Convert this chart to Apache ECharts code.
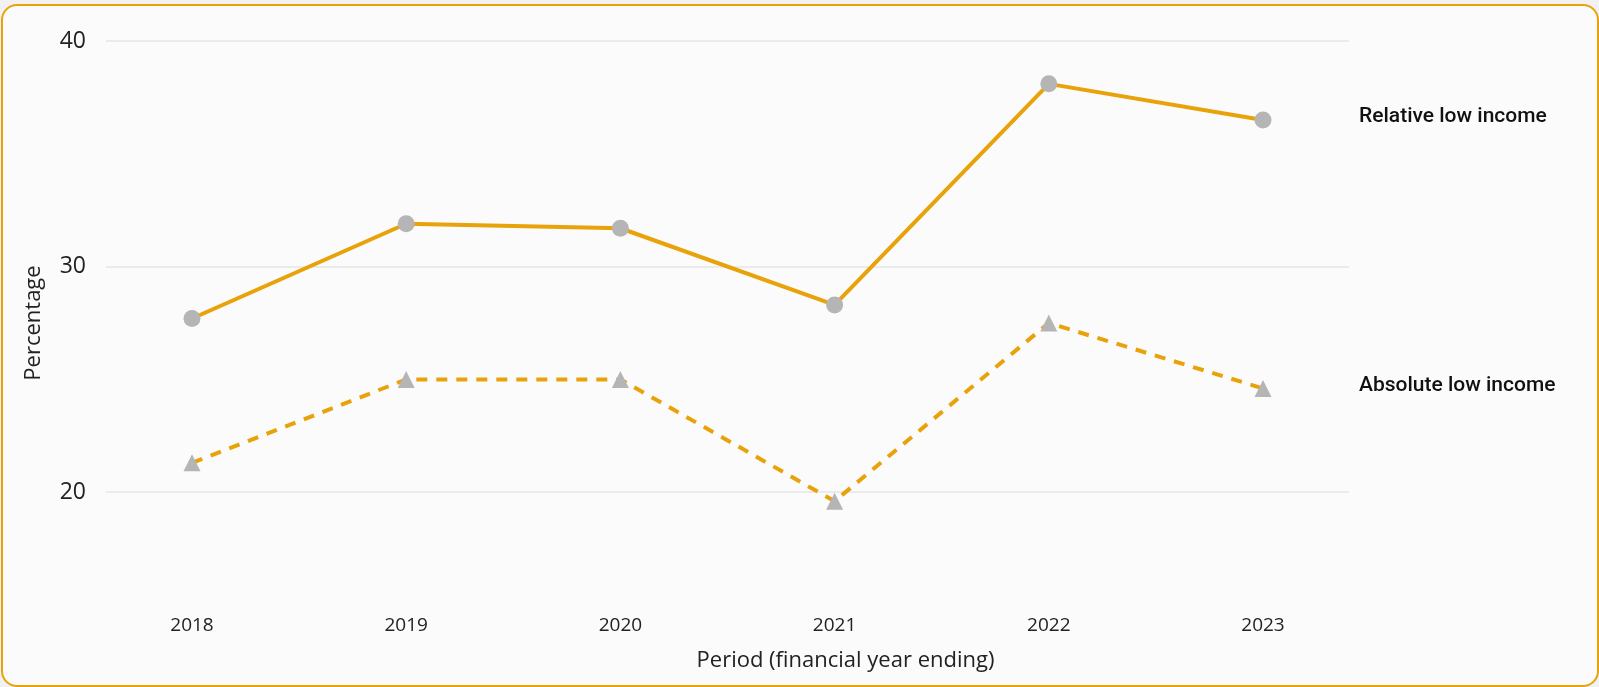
<!DOCTYPE html>
<html>
<head>
<meta charset="utf-8">
<script src="https://cdn.jsdelivr.net/npm/echarts@6/dist/echarts.min.js"></script>
<style>
  html, body { margin: 0; padding: 0; width: 1599px; height: 687px; background: #f2f2f2; overflow: hidden; }
  #frame { position: absolute; left: 1px; top: 4px; width: 1594px; height: 679px; border: 2px solid #E8A20A; border-radius: 16px; background: #fbfbfb; }
  #chart { position: absolute; left: 0; top: 0; width: 1599px; height: 687px; }
</style>
</head>
<body>
<div id="frame"></div>
<div id="chart"></div>
<script>
const categories = ['2018', '2019', '2020', '2021', '2022', '2023'];
const relativeLowIncome = [27.7, 31.9, 31.7, 28.3, 38.1, 36.5];
const absoluteLowIncome = [21.3, 25.0, 25.0, 19.6, 27.5, 24.6];
const yTickLabels = [20, 30, 40];
const seriesNames = ['Relative low income', 'Absolute low income'];

const ORANGE = '#E8A20A';
const GREY = '#b5b5b5';
const FONT = '"Open Sans", "Noto Sans", sans-serif';

const chart = echarts.init(document.getElementById('chart'), null, { renderer: 'canvas' });

const option = {
  backgroundColor: 'transparent',
  animation: false,
  grid: [
    { left: 106, right: 250, top: 41, bottom: 82 },
    { left: 192, right: 336, top: 41, bottom: 82 }
  ],
  xAxis: [
    { gridIndex: 0, type: 'value', min: 0, max: 1, show: false },
    {
      gridIndex: 1, type: 'category', data: categories, boundaryGap: false,
      axisLine: { show: false }, axisTick: { show: false }, splitLine: { show: false },
      axisLabel: { color: '#222', fontSize: 19, fontFamily: FONT, margin: 11 },
      name: 'Period (financial year ending)', nameLocation: 'middle', nameGap: 45,
      nameTextStyle: { color: '#222', fontSize: 22, fontFamily: FONT, padding: [0, 0, 0, 236] }
    }
  ],
  yAxis: [
    {
      gridIndex: 0, type: 'value', min: 15, max: 40, interval: 5,
      axisLine: { show: false }, axisTick: { show: false },
      splitLine: { show: true, lineStyle: { color: ['transparent', '#e6e6e6'], width: 1.5 } },
      axisLabel: {
        color: '#222', fontSize: 23, fontFamily: FONT, margin: 20,
        formatter: v => (yTickLabels.indexOf(v) >= 0 ? String(v) : '')
      },
      name: 'Percentage', nameLocation: 'middle', nameGap: 61,
      nameTextStyle: { color: '#222', fontSize: 22, fontFamily: FONT }
    },
    { gridIndex: 1, type: 'value', min: 15, max: 40, interval: 5, show: false }
  ],
  series: [
    {
      name: seriesNames[0], type: 'line', xAxisIndex: 1, yAxisIndex: 1,
      data: relativeLowIncome,
      symbol: 'circle', symbolSize: 17, showAllSymbol: true,
      lineStyle: { color: ORANGE, width: 4 },
      itemStyle: { color: GREY },
      z: 3,
      endLabel: {
        show: true, formatter: '{a}', distance: 96, offset: [0, -3],
        color: '#111', fontSize: 21, fontWeight: 500, fontFamily: 'Roboto, "Noto Sans", sans-serif'
      }
    },
    {
      name: seriesNames[1], type: 'line', xAxisIndex: 1, yAxisIndex: 1,
      data: absoluteLowIncome,
      symbol: 'triangle', symbolSize: 17, showAllSymbol: true,
      lineStyle: { color: ORANGE, width: 4, type: [11, 9] },
      itemStyle: { color: GREY },
      z: 3,
      endLabel: {
        show: true, formatter: '{a}', distance: 96, offset: [0, -3],
        color: '#111', fontSize: 21, fontWeight: 500, fontFamily: 'Roboto, "Noto Sans", sans-serif'
      }
    }
  ]
};

chart.setOption(option);
</script>
</body>
</html>
